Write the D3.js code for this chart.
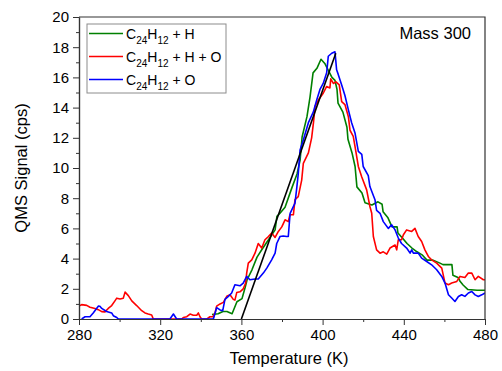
<!DOCTYPE html>
<html>
<head>
<meta charset="utf-8">
<script src="https://cdn.jsdelivr.net/npm/d3@7"></script>
<style>
    body { margin: 0; background: #fff; }
    svg { font-family: "Liberation Sans", Arial, sans-serif; }
    .axis path, .axis line { stroke: #333; }
    .axis text { font-size: 15px; fill: #000; }
</style>
</head>
<body>
<div id="chart"></div>
<script>
// temperature (K), signal (cps)
let seriesHH = [
    [345.5,0.3],[348.5,0.35],[350.9,0.5],[352.9,0.5],[355.4,0.35],[357.8,1.14],[360.3,1.35],[361.8,2.07],
    [362.8,2.6],[365.2,3.26],[367.7,4.1],[370.1,4.6],[371.6,4.9],[374.1,5.4],[376.6,5.9],[377.5,6.8],
    [379.0,7.0],[381.5,7.4],[384.9,8.7],[387.4,9.6],[388.9,10.5],[389.9,12.05],[392.3,13.4],[393.8,14.7],
    [395.3,16.3],[397.2,16.6],[399.2,17.2],[401.2,16.9],[402.7,16.5],[404.6,16.0],[406.1,15.8],[407.1,15.2],
    [407.6,14.3],[410.0,13.7],[412.0,12.7],[412.5,11.9],[414.5,11.0],[416.0,10.1],[416.9,8.75],[419.4,8.35],
    [420.9,7.7],[424.3,7.55],[427.3,7.76],[429.3,7.6],[429.8,7.1],[432.2,6.7],[434.2,6.1],[436.7,6.1],
    [437.1,5.7],[439.1,5.4],[441.6,5.0],[444.0,4.7],[446.5,4.45],[449.0,4.25],[451.4,3.9],[454.4,3.9],
    [457.8,3.7],[459.3,3.6],[463.7,3.6],[464.2,2.9],[466.7,2.75],[467.7,2.5],[469.2,2.25],[471.6,1.95],
    [476.1,1.9],[480,1.9]
];

let seriesHHO = [
    [280,0.85],[281.3,0.95],[283.8,0.9],[285.4,0.78],[287.9,0.7],[289.5,0.62],[291.2,0.49],[292.8,0.47],
    [294.4,0.7],[296.1,0.89],[297.7,1.2],[298.6,1.38],[300.2,1.33],[301.8,1.38],[302.7,1.78],[304.3,1.55],
    [306.0,1.2],[308.4,0.89],[310.9,0.55],[312.5,0.4],[314.1,0.33],[315.8,0.27],[316.6,0],[330.6,0],
    [331.4,0.1],[333.1,0.15],[334.7,0.33],[336.3,0.25],[338.0,0.25],[338.8,0.4],[339.6,0.15],[340.4,0],
    [343,0],[344.5,0.15],[346,0.15],[347,0.4],[347.8,0.85],[349.5,1.0],[351.1,1.1],[352.8,1.5],
    [354.4,1.6],[356.0,1.3],[356.8,1.25],[357.7,1.75],[359.3,1.8],[360.9,2.0],[362.1,2.38],[362.6,3.04],
    [363.4,3.7],[365.1,3.92],[366.7,4.36],[368.3,5.0],[370.0,4.7],[371.6,5.25],[373.3,5.46],[374.9,5.69],
    [376.6,5.4],[378.2,5.8],[379.9,6.1],[381.5,6.57],[383.1,6.45],[383.9,6.9],[385.6,6.9],[386.4,7.9],
    [388.0,8.1],[389.7,9.2],[390.5,10.3],[393.0,11.0],[394.6,12.0],[395.5,13.0],[396.3,14.1],[397.9,14.5],
    [400.3,14.95],[402.0,15.4],[403.6,15.3],[404.0,15.9],[405.3,15.6],[406.6,15.7],[408.2,15.5],[409.4,14.4],
    [411.0,14.2],[412.7,13.4],[413.5,12.5],[415.1,12.1],[416.0,11.4],[416.8,10.75],[417.6,10.1],[419.3,9.4],
    [421.7,8.55],[423.3,7.45],[424.2,7.0],[425.0,5.46],[426.6,4.58],[428.3,4.36],[429.9,4.45],[431.6,4.3],
    [433.2,4.7],[435.7,4.9],[436.5,4.58],[437.3,5.25],[438.9,5.25],[439.8,5.58],[441.4,5.9],[443.9,5.8],
    [445.5,6.0],[447.1,5.46],[448.8,5.13],[450.4,4.58],[452.1,4.14],[453.7,3.92],[456.2,3.7],[458.7,3.37],
    [460.3,2.38],[462.0,2.27],[463.6,2.38],[466.1,2.49],[467.7,2.82],[470.1,2.75],[471.8,3.04],[473.5,3.04],
    [475.1,2.6],[476.7,2.82],[479.2,2.6],[480,2.6]
];

let seriesHO = [
    [281.3,0],[283.0,0.15],[285.4,0.15],[287.0,0.4],[289.5,0.85],[290.3,0.84],[291.2,0.7],[293.6,0.5],
    [296.1,0.4],[296.9,0.22],[298.6,0.1],[299.4,0],[324.8,0],[326.5,0.33],[328.1,0],[346.2,0],
    [347.8,0.75],[349.5,0.6],[350.8,0.55],[351.9,1.3],[353.6,1.5],[355.2,1.72],[356.8,2.27],[359.3,2.2],
    [360.9,2.38],[362.6,2.82],[364.2,2.6],[366.7,2.65],[368.3,2.65],[370.8,3.04],[372.5,3.37],[374.9,3.92],
    [376.6,4.36],[377.4,5.0],[379.0,5.46],[380.6,5.5],[382.3,5.46],[383.1,5.46],[384.0,7.0],[386.4,7.67],
    [387.2,8.6],[388.0,9.6],[388.9,11.2],[390.5,11.86],[393.0,13.0],[395.4,13.7],[397.1,14.5],[398.7,15.2],
    [400.3,15.6],[402.0,16.3],[402.8,17.4],[404.5,17.6],[406.1,17.7],[406.9,16.5],[407.7,16.2],[409.4,15.5],
    [411.0,14.8],[412.7,13.85],[414.3,13.0],[416.0,12.3],[417.6,11.1],[419.3,10.9],[420.0,10.1],[422.5,9.5],
    [423.3,8.77],[425.8,7.9],[426.6,7.2],[428.3,7.0],[429.9,6.45],[432.4,6.0],[434.0,6.24],[435.7,5.9],
    [437.3,5.36],[438.9,5.0],[441.4,4.7],[443.1,4.36],[443.9,4.58],[444.7,4.36],[447.1,4.36],[448.8,4.03],
    [451.3,3.81],[453.7,3.59],[456.2,3.26],[458.7,2.82],[460.3,2.38],[462.0,1.61],[463.6,1.39],[465.2,1.16],
    [466.9,1.49],[468.5,1.61],[470.1,1.5],[471.8,1.72],[473.5,1.82],[475.1,1.6],[476.7,1.49],[478.4,1.6],
    [480,1.72]
];

// linear fit of the leading edge
let fitLine = [[360,0],[406.5,17.6]];

let xTicks = [280, 320, 360, 400, 440, 480];
let xMinor = [300, 340, 380, 420, 460];
let yTicks = [0, 2, 4, 6, 8, 10, 12, 14, 16, 18, 20];
let yMinor = [1, 3, 5, 7, 9, 11, 13, 15, 17, 19];

let legendItems = [
    {base: "C", sub1: "24", mid: "H", sub2: "12", tail: " + H", color: "#008000", data: seriesHH},
    {base: "C", sub1: "24", mid: "H", sub2: "12", tail: " + H + O", color: "#ff0000", data: seriesHHO},
    {base: "C", sub1: "24", mid: "H", sub2: "12", tail: " + O", color: "#0000ff", data: seriesHO}
];

let margin = {top: 17, right: 17, bottom: 52, left: 79};
let width = 502 - margin.left - margin.right,
    height = 371 - margin.top - margin.bottom;

let svg = d3.select("#chart").append("svg")
    .attr("width", width + margin.left + margin.right)
    .attr("height", height + margin.top + margin.bottom)
    .append("g")
    .attr("transform", "translate(" + margin.left + "," + margin.top + ")");

svg.append("defs")
    .append("clipPath")
    .attr("id", "clip")
    .append("rect")
    .attr("width", width)
    .attr("height", height);

let x = d3.scaleLinear().domain([280, 480]).range([0, width]);
let y = d3.scaleLinear().domain([0, 20]).range([height, 0]);

let line = d3.line()
    .x(d => x(d[0]))
    .y(d => y(d[1]));

// data lines, drawn in legend order so blue ends on top
legendItems.forEach(function (item) {
    svg.append("path")
        .datum(item.data)
        .attr("clip-path", "url(#clip)")
        .attr("fill", "none")
        .attr("stroke", item.color)
        .attr("stroke-width", 1.6)
        .attr("stroke-linejoin", "round")
        .attr("d", line);
});

svg.append("path")
    .datum(fitLine)
    .attr("fill", "none")
    .attr("stroke", "#000")
    .attr("stroke-width", 1.6)
    .attr("d", line);

// frame top / right
svg.append("path")
    .attr("d", "M0,0H" + width + "V" + height)
    .attr("fill", "none")
    .attr("stroke", "#333")
    .attr("stroke-width", 1.2);

// axes
svg.append("g")
    .attr("class", "axis")
    .attr("transform", "translate(0," + height + ")")
    .call(d3.axisBottom(x).tickValues(xMinor).tickSize(3).tickSizeOuter(0).tickFormat(""));
svg.append("g")
    .attr("class", "axis x-axis")
    .attr("transform", "translate(0," + height + ")")
    .call(d3.axisBottom(x).tickValues(xTicks).tickSize(6).tickSizeOuter(0).tickPadding(4));

svg.append("g")
    .attr("class", "axis")
    .call(d3.axisLeft(y).tickValues(yMinor).tickSize(3).tickSizeOuter(0).tickFormat(""));
svg.append("g")
    .attr("class", "axis y-axis")
    .call(d3.axisLeft(y).tickValues(yTicks).tickSize(6).tickSizeOuter(0).tickPadding(4));

svg.selectAll(".axis path").attr("stroke-width", 1.2);

// axis titles
svg.append("text")
    .attr("x", width / 2 + 7)
    .attr("y", height + 45)
    .attr("text-anchor", "middle")
    .style("font-size", "16.5px")
    .text("Temperature (K)");

svg.append("text")
    .attr("transform", "rotate(-90)")
    .attr("x", -height / 2)
    .attr("y", -52)
    .attr("text-anchor", "middle")
    .style("font-size", "16.5px")
    .text("QMS Signal (cps)");

svg.append("text")
    .attr("x", width - 14)
    .attr("y", 22)
    .attr("text-anchor", "end")
    .style("font-size", "16.5px")
    .text("Mass 300");

// legend
let legend = svg.append("g")
    .attr("transform", "translate(8,7)");

legend.append("rect")
    .attr("width", 139)
    .attr("height", 69)
    .attr("fill", "#fff")
    .attr("stroke", "#8c8c8c")
    .attr("stroke-width", 1);

legendItems.forEach(function (item, i) {
    let row = legend.append("g")
        .attr("transform", "translate(0," + (9.5 + i * 23) + ")");
    row.append("line")
        .attr("x1", 2).attr("x2", 36)
        .attr("stroke", item.color)
        .attr("stroke-width", 1.6);
    let t = row.append("text")
        .attr("x", 39)
        .attr("y", 5)
        .style("font-size", "14px");
    t.append("tspan").text(item.base);
    t.append("tspan").attr("dy", 5).style("font-size", "10px").text(item.sub1);
    t.append("tspan").attr("dy", -5).text(item.mid);
    t.append("tspan").attr("dy", 5).style("font-size", "10px").text(item.sub2);
    t.append("tspan").attr("dy", -5).text(item.tail);
});
</script>
</body>
</html>
